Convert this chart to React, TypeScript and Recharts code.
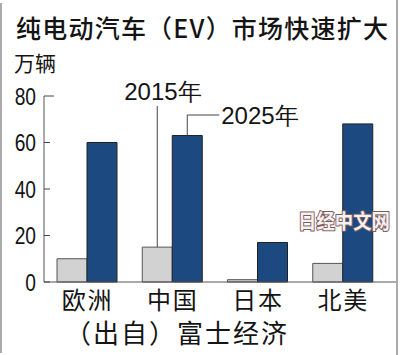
import React from 'react';
import { BarChart, Bar, XAxis, YAxis } from 'recharts';

const categories = ['欧洲', '中国', '日本', '北美'];
const ev2015 = [10, 15, 1, 8];
const ev2025 = [60, 63, 17, 68];
const yTicks = [0, 20, 40, 60, 80];
const seriesNames = ['2015年', '2025年'];
const titleText = '纯电动汽车（EV）市场快速扩大';
const unitText = '万辆';
const sourceText = '（出自）富士经济';
const watermarkText = '日经中文网';

const data = categories.map((c, i) => ({ name: c, y2015: ev2015[i], y2025: ev2025[i] }));

const CJK = '"Noto Sans CJK SC", "Noto Sans", sans-serif';
const LATIN = '"Liberation Sans", Arial, sans-serif';
const INK = '#141414';

const YTick = (props: any) => {
  const { x, y, payload } = props;
  const isTop = payload.value === 80;
  return (
    <g>
      <line x1={x} y1={y} x2={x + (isTop ? 10 : 6)} y2={y} stroke="#444" strokeWidth={1} />
      <text
        transform={`translate(${x - 8},${y + 8.5}) scale(0.8,1)`}
        textAnchor="end"
        fontFamily={LATIN}
        fontSize={24}
        fill={INK}
      >
        {payload.value}
      </text>
    </g>
  );
};

const XTick = (props: any) => {
  const { x, y, payload } = props;
  return (
    <text x={x + 1} y={y + 27} textAnchor="middle" fontFamily={CJK} fontSize={24} letterSpacing={2} fill={INK}>
      {payload.value}
    </text>
  );
};

const Label2015 = (props: any) => {
  const { x, y, width, index } = props;
  if (index !== 1) return null;
  const cx = x + width / 2;
  return (
    <g>
      <line x1={cx} y1={y} x2={cx} y2={106} stroke="#444" strokeWidth={1} />
      <text x={cx - 33} y={100} fontFamily={LATIN} fontSize={24} fill={INK}>
        {seriesNames[0]}
      </text>
    </g>
  );
};

const Label2025 = (props: any) => {
  const { x, y, width, index } = props;
  if (index !== 1) return null;
  const cx = x + width / 2;
  return (
    <g>
      <polyline points={`${cx},${y} ${cx},115 ${cx + 32},115`} fill="none" stroke="#444" strokeWidth={1} />
      <text x={cx + 34} y={123.5} fontFamily={LATIN} fontSize={24} fill={INK}>
        {seriesNames[1]}
      </text>
    </g>
  );
};

export default function App() {
  return (
    <div style={{ position: 'absolute', left: 0, top: 0, width: 400, height: 355, background: '#fff' }}>
      <BarChart
        width={400}
        height={355}
        data={data}
        margin={{ top: 96, right: 3, left: 0, bottom: 0 }}
        barGap={0}
        barSize={30}
      >
        <XAxis
          dataKey="name"
          height={73}
          padding={{ left: 0, right: 12 }}
          axisLine={{ stroke: '#555', strokeWidth: 1 }}
          tickLine={false}
          tickSize={0}
          tickMargin={0}
          tick={<XTick />}
          interval={0}
        />
        <YAxis
          width={44}
          domain={[0, 80]}
          ticks={yTicks}
          axisLine={{ stroke: '#555', strokeWidth: 1 }}
          tickLine={false}
          tickSize={0}
          tickMargin={0}
          tick={<YTick />}
        />
        <Bar dataKey="y2015" fill="#d2d2d2" stroke="#555" strokeWidth={1} isAnimationActive={false} label={<Label2015 />} />
        <Bar dataKey="y2025" fill="#1c4a80" stroke="#222" strokeWidth={1} isAnimationActive={false} label={<Label2025 />} />
      </BarChart>
      <svg width={400} height={355} style={{ position: 'absolute', left: 0, top: 0, pointerEvents: 'none' }}>
        <line x1={1} y1={3} x2={1} y2={353} stroke="#aaa" strokeWidth={2} />
        <line x1={397} y1={0} x2={397} y2={355} stroke="#aaa" strokeWidth={2} />
        <text x={16} y={38} fontFamily={CJK} fontSize={25} fontWeight={500} fill={INK} textLength={372} lengthAdjust="spacing">
          {titleText}
        </text>
        <text x={14} y={71} fontFamily={CJK} fontSize={21} fill={INK}>
          {unitText}
        </text>
        <text x={65} y={343} fontFamily={CJK} fontSize={26} letterSpacing={2} fill={INK}>
          {sourceText}
        </text>
        <text
          x={298}
          y={229}
          fontFamily={CJK}
          fontSize={20}
          fontWeight={700}
          fill="#f6f0f0"
          stroke="#7d5c5c"
          strokeWidth={2}
          paintOrder="stroke"
          textLength={92}
          lengthAdjust="spacingAndGlyphs"
        >
          {watermarkText}
        </text>
      </svg>
    </div>
  );
}
